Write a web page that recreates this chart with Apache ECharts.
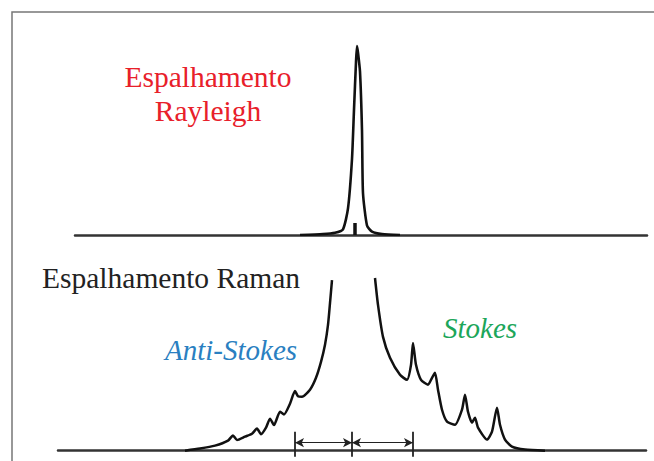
<!DOCTYPE html>
<html>
<head>
<meta charset="utf-8">
<script src="https://cdn.jsdelivr.net/npm/echarts@6/dist/echarts.min.js"></script>
<style>
    html, body { margin: 0; padding: 0; background: #fff; }
    #chart { width: 654px; height: 461px; }
</style>
</head>
<body>
<div id="chart"></div>
<script>
    // Rayleigh peak (shift relative to laser line, relative intensity)
    var rayleighShift = [-57, -34, -22, -14, -9, -5, -3, -1, 0, 1, 3, 5, 6, 10, 15, 25, 43]
    var rayleighIntensity = [0, 0.005, 0.012, 0.03, 0.14, 0.4, 0.66, 0.91, 0.995, 0.96, 0.86, 0.55, 0.22, 0.05, 0.018, 0.005, 0]

    // Raman, anti-Stokes side (left)
    var antiStokesShift = [-167, -152, -137, -124, -119, -115, -107, -100, -95, -91, -86, -82, -78, -72, -68, -62, -57, -54, -50, -42, -36, -31, -27, -24, -22, -20]
    var antiStokesIntensity = [0, 0.012, 0.029, 0.058, 0.088, 0.062, 0.081, 0.098, 0.128, 0.095, 0.133, 0.185, 0.148, 0.225, 0.21, 0.272, 0.345, 0.315, 0.312, 0.353, 0.422, 0.514, 0.613, 0.728, 0.855, 0.988]

    // Raman, Stokes side (right)
    var stokesShift = [23, 26, 31, 38, 48, 55, 59, 61, 64, 69, 76, 80, 83, 86, 90, 95, 103, 110, 113, 116, 120, 123, 126, 135, 140, 145, 148, 153, 160, 173, 193]
    var stokesIntensity = [1.0, 0.844, 0.659, 0.538, 0.439, 0.41, 0.497, 0.624, 0.497, 0.41, 0.382, 0.422, 0.451, 0.353, 0.237, 0.168, 0.15, 0.237, 0.324, 0.225, 0.162, 0.191, 0.133, 0.064, 0.11, 0.249, 0.15, 0.064, 0.023, 0.006, 0]

    // markers under the Raman spectrum
    var bandShifts = [-57, 0, 61]

    function pairs(xs, ys) {
        return xs.map(function (x, i) { return [x, ys[i]] })
    }

    var serif = '"Liberation Serif", "DejaVu Serif", serif'
    var lineColor = '#111'

    var chart = echarts.init(document.getElementById('chart'), null, { renderer: 'svg' })

    chart.setOption({
        animation: false,
        grid: [
            { left: 75, right: 7, top: 45, bottom: 226 },
            { left: 58, right: 8, top: 278, bottom: 0 }
        ],
        xAxis: [
            {
                gridIndex: 0, type: 'value', min: -282, max: 290,
                axisLine: { show: true, lineStyle: { color: '#333', width: 2.5 } },
                axisTick: { show: false }, axisLabel: { show: false }, splitLine: { show: false }
            },
            {
                gridIndex: 1, type: 'value', min: -294, max: 294,
                axisLine: { show: true, onZero: true, lineStyle: { color: '#333', width: 2.5 } },
                axisTick: { show: false }, axisLabel: { show: false }, splitLine: { show: false }
            }
        ],
        yAxis: [
            { gridIndex: 0, type: 'value', min: 0, max: 1, show: false },
            { gridIndex: 1, type: 'value', min: -0.06, max: 1, show: false }
        ],
        series: [
            {
                type: 'line', xAxisIndex: 0, yAxisIndex: 0, symbol: 'none', smooth: 0.2,
                lineStyle: { color: lineColor, width: 2.6 },
                data: pairs(rayleighShift, rayleighIntensity)
            },
            {
                type: 'line', xAxisIndex: 0, yAxisIndex: 0, symbol: 'none',
                lineStyle: { color: lineColor, width: 3.5 },
                data: [[-2, 0], [-2, 0.063]]
            },
            {
                type: 'line', xAxisIndex: 1, yAxisIndex: 1, symbol: 'none', smooth: 0.2,
                lineStyle: { color: lineColor, width: 2.5 },
                data: pairs(antiStokesShift, antiStokesIntensity),
                markLine: {
                    silent: true,
                    symbol: ['none', 'none'],
                    label: { show: false },
                    lineStyle: { color: '#222', width: 1.8, type: 'solid' },
                    data: bandShifts.map(function (s) {
                        return [{ coord: [s, -0.035] }, { coord: [s, 0.11] }]
                    })
                }
            },
            {
                type: 'line', xAxisIndex: 1, yAxisIndex: 1, symbol: 'none', smooth: 0.2,
                lineStyle: { color: lineColor, width: 2.5 },
                data: pairs(stokesShift, stokesIntensity),
                markLine: {
                    silent: true,
                    symbol: ['arrow', 'arrow'],
                    symbolSize: [7, 9],
                    label: { show: false },
                    lineStyle: { color: '#222', width: 1.2, type: 'solid' },
                    data: [
                        [{ coord: [bandShifts[0], 0.046] }, { coord: [bandShifts[1], 0.046] }],
                        [{ coord: [bandShifts[1], 0.046] }, { coord: [bandShifts[2], 0.046] }]
                    ]
                }
            }
        ],
        graphic: [
            {
                type: 'rect', silent: true,
                shape: { x: 12, y: 12, width: 700, height: 500 },
                style: { fill: 'none', stroke: '#777', lineWidth: 1.5 }
            },
            {
                type: 'text', x: 208, y: 77,
                style: { text: 'Espalhamento', font: '29.5px ' + serif, fill: '#e8202a', textAlign: 'center', textVerticalAlign: 'middle' }
            },
            {
                type: 'text', x: 208, y: 111,
                style: { text: 'Rayleigh', font: '29.5px ' + serif, fill: '#e8202a', textAlign: 'center', textVerticalAlign: 'middle' }
            },
            {
                type: 'text', x: 42, y: 278,
                style: { text: 'Espalhamento Raman', font: '29.5px ' + serif, fill: '#222', textAlign: 'left', textVerticalAlign: 'middle' }
            },
            {
                type: 'text', x: 231, y: 350,
                style: { text: 'Anti-Stokes', font: 'italic 29px ' + serif, fill: '#2a7fc1', textAlign: 'center', textVerticalAlign: 'middle' }
            },
            {
                type: 'text', x: 480, y: 328,
                style: { text: 'Stokes', font: 'italic 29px ' + serif, fill: '#1ca65a', textAlign: 'center', textVerticalAlign: 'middle' }
            }
        ]
    })

    window.addEventListener('resize', function () {
        chart.resize()
    })
</script>
</body>
</html>
